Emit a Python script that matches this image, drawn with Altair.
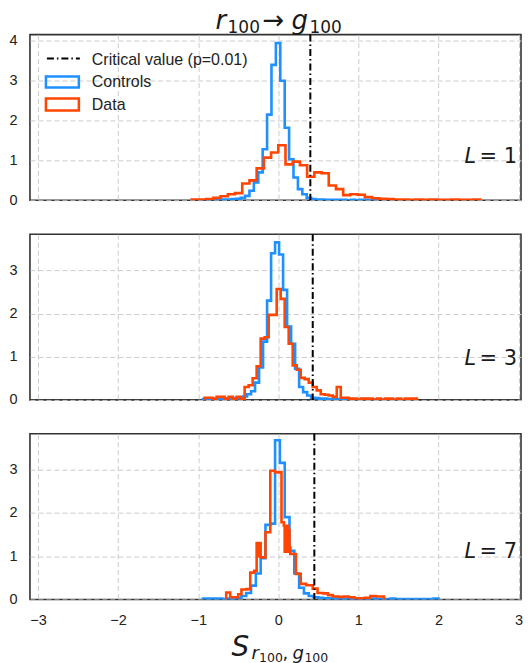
import altair as alt
import pandas as pd

CONTROL_COLOR = "#1e90ff"
DATA_COLOR = "#ff4500"

# ---------------- data ----------------
panel_L = [1, 3, 7]
critical_values = [0.40, 0.43, 0.45]
y_max = [4.16, 3.84, 3.82]
y_ticks = [[0, 1, 2, 3, 4], [0, 1, 2, 3], [0, 1, 2, 3]]
x_ticks = [-3, -2, -1, 0, 1, 2, 3]
x_domain = [-3.1, 3.03]

# L = 1
l1_ctrl_start, l1_ctrl_width = -0.965, 0.055
l1_ctrl_heights = [0.0, 0.0, 0.01, 0.01, 0.01, 0.02, 0.02, 0.03, 0.04, 0.06, 0.11,
                   0.24, 0.45, 0.70, 1.28, 2.15, 3.40, 3.95, 3.00, 1.82, 1.03, 0.57,
                   0.28, 0.15, 0.06, 0.03, 0.02, 0.02, 0.01, 0.01, 0.01, 0.01, 0.01,
                   0.0, 0.01, 0.0, 0.01, 0.01, 0.0, 0.01]
l1_data_start, l1_data_width = -1.08, 0.09
l1_data_heights = [0.02, 0.02, 0.03, 0.06, 0.10, 0.15, 0.18, 0.42, 0.50, 0.80, 1.07,
                   1.20, 1.38, 0.90, 0.97, 0.88, 0.59, 0.70, 0.68, 0.37, 0.28, 0.13,
                   0.15, 0.14, 0.08, 0.05, 0.04, 0.03, 0.02, 0.02, 0.01, 0.02, 0.01,
                   0.02, 0.01, 0.01, 0.02, 0.01, 0.01, 0.02]

# L = 3
l3_ctrl_start, l3_ctrl_width = -0.94, 0.05
l3_ctrl_heights = [0.02, 0.02, 0.01, 0.02, 0.02, 0.02, 0.03, 0.03, 0.04, 0.05,
                   0.08, 0.13, 0.20, 0.40, 0.75, 1.35, 2.30, 3.40, 3.65, 3.37, 2.55,
                   1.70, 1.30, 0.72, 0.30, 0.18, 0.10, 0.05, 0.04, 0.03, 0.03, 0.02,
                   0.02, 0.02, 0.01, 0.02, 0.01, 0.01, 0.01, 0.01, 0.02, 0.01, 0.01,
                   0.01, 0.01, 0.01, 0.0, 0.01, 0.01, 0.0]
l3_data_start, l3_data_width = -0.92, 0.05
l3_data_heights = [0.05, 0.05, 0.03, 0.07, 0.07, 0.03, 0.07, 0.03, 0.07, 0.03,
                   0.30, 0.34, 0.50, 0.78, 1.42, 1.45, 1.97, 1.97, 2.57, 2.34, 1.69,
                   1.30, 0.80, 0.70, 0.51, 0.48, 0.40, 0.30, 0.22, 0.13, 0.12, 0.10,
                   0.07, 0.30, 0.05, 0.05, 0.03, 0.03, 0.0, 0.03, 0.03, 0.03, 0.0,
                   0.03, 0.0, 0.03, 0.03, 0.0, 0.03, 0.0, 0.03, 0.03, 0.03]

# L = 7
l7_ctrl_start, l7_ctrl_width = -0.94, 0.06
l7_ctrl_heights = [0.02, 0.02, 0.02, 0.02, 0.01, 0.02, 0.02, 0.04, 0.08, 0.15, 0.32,
                   0.60, 0.95, 1.72, 1.75, 3.67, 3.15, 1.90, 1.12, 0.60, 0.27, 0.14,
                   0.08, 0.05, 0.04, 0.03, 0.03, 0.02, 0.02, 0.02, 0.02, 0.01, 0.02,
                   0.01, 0.01, 0.02, 0.01, 0.01, 0.01, 0.02, 0.01, 0.01, 0.01, 0.01,
                   0.01, 0.01, 0.01, 0.01, 0.02]
l7_data_edges = [-0.65, -0.60, -0.55, -0.50, -0.46, -0.40, -0.35, -0.30, -0.27, -0.26,
                 -0.25, -0.24, -0.23, -0.22, -0.16, -0.10, -0.04, 0.04, 0.07, 0.08,
                 0.09, 0.10, 0.11, 0.12, 0.13, 0.14, 0.15, 0.22, 0.28, 0.35,
                 0.43, 0.49, 0.56, 0.62, 0.68, 0.75, 0.82, 0.88, 0.95, 1.02,
                 1.08, 1.15, 1.22, 1.32]
l7_data_heights = [0.16, 0.05, 0.05, 0.12, 0.23, 0.24, 0.62, 0.66, 1.30, 1.00,
                   1.30, 1.00, 1.30, 0.97, 1.55, 2.97, 2.93, 1.78, 1.70, 1.10,
                   1.70, 1.10, 1.70, 1.10, 1.60, 1.20, 1.05, 0.59, 0.36, 0.33,
                   0.25, 0.15, 0.14, 0.10, 0.07, 0.06, 0.07, 0.05, 0.03, 0.03,
                   0.04, 0.08, 0.07]

legend_labels = ["Critical value (p=0.01)", "Controls", "Data"]

# ---------------- layout ----------------
W, H = 492, 166
SPACING = 24
LABEL_FONT = "Liberation Sans"
MATH_FONT = "DejaVu Sans"


def bin_edges(start, width, n):
    return [round(start + width * i, 5) for i in range(n + 1)]


def step_rows(edges, heights, series):
    rows = [{"x": edges[0], "y": 0.0, "i": 0, "s": series}]
    for j, h in enumerate(heights):
        rows.append({"x": edges[j], "y": h, "i": j + 1, "s": series})
    rows.append({"x": edges[len(heights)], "y": 0.0, "i": len(heights) + 1, "s": series})
    return rows


def txt(s, x, y, size, italic=False, align="left", font=MATH_FONT, color="#1a1a1a"):
    return alt.Chart(pd.DataFrame({"t": [s]})).mark_text(
        align=align, baseline="alphabetic", fontSize=size, font=font,
        fontStyle="italic" if italic else "normal", color=color,
    ).encode(text="t:N", x=alt.value(x), y=alt.value(y))


def panel(idx, ctrl_edges, ctrl_h, data_edges, data_h, bottom, extras, L_base):
    df = pd.DataFrame(step_rows(ctrl_edges, ctrl_h, "Controls")
                      + step_rows(data_edges, data_h, "Data"))
    x_axis = alt.Axis(values=x_ticks, labels=bottom, title=None, grid=True,
                      ticks=False, domain=False, format="d",
                      labelPadding=14 if bottom else 0)
    y_axis = alt.Axis(values=y_ticks[idx], title=None, grid=True, ticks=False,
                      domain=False, format="d", labelPadding=13)
    xs = alt.Scale(domain=x_domain, nice=False, zero=False)
    ys = alt.Scale(domain=[0, y_max[idx]], nice=False)
    lines = alt.Chart(df).mark_line(
        interpolate="step-after", strokeWidth=2.6, clip=True, strokeJoin="miter"
    ).encode(
        x=alt.X("x:Q", scale=xs, axis=x_axis),
        y=alt.Y("y:Q", scale=ys, axis=y_axis),
        color=alt.Color("s:N", scale=alt.Scale(domain=["Controls", "Data"],
                                               range=[CONTROL_COLOR, DATA_COLOR]),
                        legend=None),
        order="i:Q",
    )
    crit = alt.Chart(pd.DataFrame({"c": [critical_values[idx]]})).mark_rule(
        color="black", strokeWidth=2, strokeDash=[7, 3, 1.5, 3]
    ).encode(x=alt.X("c:Q", scale=xs, axis=x_axis))
    lab_L = txt("L", W - 45, L_base, 21, italic=True, align="right")
    lab_eq = txt("= " + str(panel_L[idx]), W - 4, L_base, 21, align="right")
    return alt.layer(lines, crit, lab_L, lab_eq, *extras).properties(width=W, height=H)


# legend + title (panel 1)
leg_rule = alt.Chart(pd.DataFrame({"k": [legend_labels[0]]})).mark_rule(
    color="black", strokeWidth=2, strokeDash=[7, 3, 1.5, 3]
).encode(x=alt.value(17), x2=alt.value(50), y=alt.value(24))
leg_ctrl = alt.Chart(pd.DataFrame({"k": [legend_labels[1]]})).mark_rect(
    fillOpacity=0, stroke=CONTROL_COLOR, strokeWidth=2.5
).encode(x=alt.value(16), x2=alt.value(49), y=alt.value(42), y2=alt.value(53))
leg_data = alt.Chart(pd.DataFrame({"k": [legend_labels[2]]})).mark_rect(
    fillOpacity=0, stroke=DATA_COLOR, strokeWidth=2.5
).encode(x=alt.value(16), x2=alt.value(49), y=alt.value(64), y2=alt.value(76))
leg_texts = [txt(legend_labels[0], 62, 30, 16, font=LABEL_FONT, color="#222222"),
             txt(legend_labels[1], 62, 53, 16, font=LABEL_FONT, color="#222222"),
             txt(legend_labels[2], 62, 76, 16, font=LABEL_FONT, color="#222222")]
title_marks = [txt("r", 186, -6, 26, italic=True),
               txt("100", 198, -2, 17),
               txt("\u2192", 233, -6, 26),
               txt("g", 262, -6, 26, italic=True),
               txt("100", 280, -2, 17)]

xlabel_marks = [txt("S", 202, H + 57, 28, italic=True),
                txt("r", 222, H + 60, 18, italic=True),
                txt("100", 229.5, H + 63, 12.5),
                txt(",", 253, H + 60, 18),
                txt("g", 263, H + 60, 18, italic=True),
                txt("100", 275, H + 63, 12.5)]

p1 = panel(0, bin_edges(l1_ctrl_start, l1_ctrl_width, len(l1_ctrl_heights)), l1_ctrl_heights,
           bin_edges(l1_data_start, l1_data_width, len(l1_data_heights)), l1_data_heights,
           False, [leg_rule, leg_ctrl, leg_data] + leg_texts + title_marks, 129)
p2 = panel(1, bin_edges(l3_ctrl_start, l3_ctrl_width, len(l3_ctrl_heights)), l3_ctrl_heights,
           bin_edges(l3_data_start, l3_data_width, len(l3_data_heights)), l3_data_heights,
           False, [], 131)
p3 = panel(2, bin_edges(l7_ctrl_start, l7_ctrl_width, len(l7_ctrl_heights)), l7_ctrl_heights,
           l7_data_edges, l7_data_heights, True, xlabel_marks, 124)

chart = alt.vconcat(p1, p2, p3, spacing=SPACING).properties(
    padding={"left": 0, "top": -2, "right": 0, "bottom": 0}
).configure_axis(
    gridColor="#cccccc", gridDash=[5, 3], gridWidth=1,
    labelFont=LABEL_FONT, labelFontSize=14.5, labelColor="#222222",
).configure_view(
    stroke="#333333", strokeWidth=1.6
).configure_concat(spacing=SPACING)

chart.save("out.html", embed_options={"renderer": "svg", "actions": False})
